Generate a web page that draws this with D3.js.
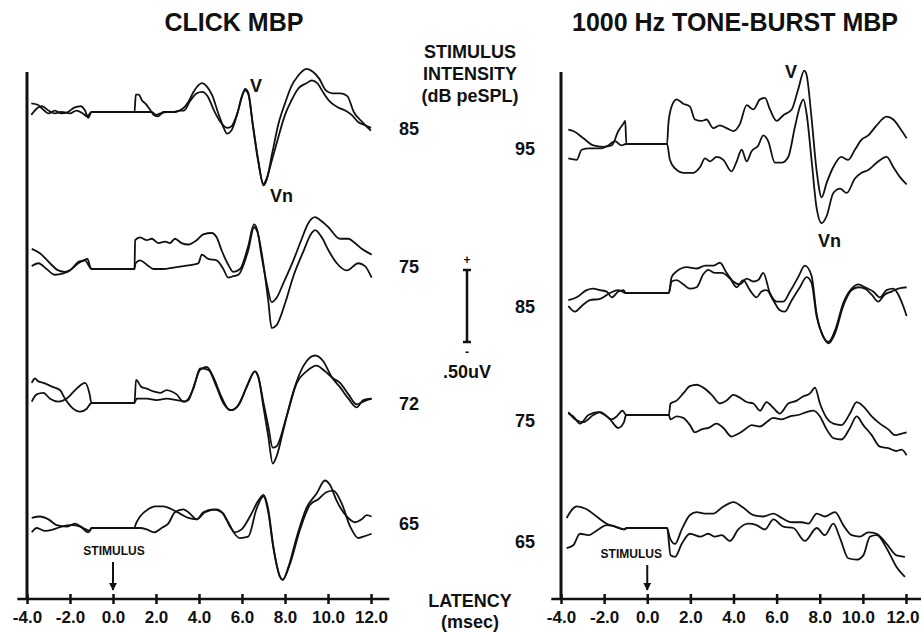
<!DOCTYPE html>
<html>
<head>
<meta charset="utf-8">
<script src="https://cdn.jsdelivr.net/npm/d3@7"></script>
<style>
  body { margin: 0; background: #fff; }
  svg text { font-family: "Liberation Sans", Arial, Helvetica, sans-serif; font-weight: bold; fill: #111; }
</style>
</head>
<body>
<svg id="chart"></svg>
<script>
const width = 921;
const height = 632;

// stimulus levels (dB peSPL) and latency ticks (msec)
const clickLevels = [85, 75, 72, 65];
const toneLevels = [95, 85, 75, 65];
const latencyTicks = [-4, -2, 0, 2, 4, 6, 8, 10, 12];

// waveforms: [latency msec, amplitude uV], two replications per level
const click85A = [[-3.8,0.06],[-3.5,0.05],[-3.2,0.01],[-3.0,-0.01],[-2.7,0.01],[-2.4,-0.01],[-2.1,0],[-1.8,0.03],[-1.5,0.04],[-1.3,0.01],[-1.15,-0.04],[-1.0,0],[1.0,0],[1.06,0.12],[1.2,0.12],[1.35,0.08],[1.5,0.06],[1.75,0.01],[1.9,-0.02],[2.1,-0.03],[2.35,0],[2.6,0],[2.9,0],[3.1,0.01],[3.3,0.03],[3.5,0.07],[3.75,0.14],[4.0,0.19],[4.15,0.2],[4.35,0.18],[4.6,0.12],[4.9,-0.01],[5.15,-0.11],[5.3,-0.15],[5.5,-0.13],[5.75,-0.03],[6.0,0.11],[6.15,0.16],[6.3,0.13],[6.5,-0.08],[6.75,-0.33],[7.0,-0.51],[7.15,-0.47],[7.4,-0.29],[7.7,-0.08],[8.0,0.06],[8.3,0.18],[8.6,0.25],[9.0,0.3],[9.3,0.28],[9.6,0.23],[9.9,0.15],[10.2,0.13],[10.6,0.13],[10.9,0.11],[11.2,0],[11.6,-0.07],[12.0,-0.13]];
const click85B = [[-3.8,-0.02],[-3.5,0.03],[-3.3,0.04],[-3.0,0.01],[-2.7,-0.01],[-2.4,0],[-2.0,-0.01],[-1.7,0.01],[-1.4,-0.01],[-1.2,-0.03],[-1.0,0],[1.0,0],[1.6,0],[1.8,0],[2.0,-0.02],[2.2,-0.01],[2.5,0],[2.8,0],[3.1,0.01],[3.3,0.01],[3.6,0.08],[3.9,0.13],[4.15,0.14],[4.4,0.11],[4.7,0.01],[5.0,-0.07],[5.3,-0.11],[5.5,-0.1],[5.8,0],[6.05,0.13],[6.15,0.15],[6.3,0.12],[6.5,-0.09],[6.75,-0.34],[7.0,-0.5],[7.15,-0.46],[7.4,-0.33],[7.7,-0.17],[8.0,-0.02],[8.3,0.08],[8.6,0.16],[9.0,0.2],[9.25,0.22],[9.5,0.2],[9.8,0.13],[10.1,0.07],[10.5,0.03],[10.8,0.01],[11.1,-0.02],[11.4,-0.07],[11.7,-0.09],[12.0,-0.11]];
const click75A = [[-3.78,0.14],[-3.4,0.11],[-2.93,0.04],[-2.54,-0.01],[-2.23,-0.02],[-1.92,0],[-1.61,0.04],[-1.3,0.06],[-1.15,0.03],[-1.0,0],[1.0,0],[1.03,0.2],[1.26,0.22],[1.57,0.2],[1.8,0.21],[2.11,0.18],[2.42,0.19],[2.65,0.18],[2.88,0.21],[3.19,0.18],[3.5,0.17],[3.89,0.2],[4.2,0.24],[4.59,0.25],[4.82,0.22],[5.05,0.13],[5.36,0.03],[5.6,-0.02],[5.91,0],[6.29,0.16],[6.56,0.31],[6.71,0.27],[6.91,0.09],[7.15,-0.1],[7.38,-0.23],[7.61,-0.2],[7.92,-0.1],[8.39,0.06],[8.78,0.21],[9.09,0.32],[9.4,0.36],[9.63,0.34],[10.02,0.29],[10.56,0.21],[10.95,0.21],[11.18,0.19],[11.57,0.14],[12.03,0.1]];
const click75B = [[-3.78,0.02],[-3.47,0.04],[-3.09,0],[-2.7,-0.04],[-2.31,-0.03],[-2.0,-0.01],[-1.61,0.05],[-1.38,0.06],[-1.19,0.07],[-1.05,0.01],[-1.0,0],[1.0,0],[1.05,0.04],[1.26,0.06],[1.57,0.03],[1.88,0],[2.34,0],[2.81,0.01],[3.27,0.02],[3.73,0.03],[3.97,0.04],[4.13,0.1],[4.43,0.07],[4.82,0.06],[5.13,0],[5.36,-0.06],[5.6,-0.05],[5.83,-0.04],[6.29,0.13],[6.56,0.29],[6.71,0.26],[6.99,0.04],[7.22,-0.22],[7.38,-0.41],[7.61,-0.39],[8.0,-0.24],[8.39,-0.05],[8.85,0.12],[9.24,0.25],[9.4,0.27],[9.71,0.22],[10.02,0.13],[10.41,0.04],[10.87,-0.01],[11.41,0.04],[11.72,0.02],[12.03,-0.06]];
const click72A = [[-3.78,0.14],[-3.63,0.17],[-3.47,0.15],[-3.24,0.14],[-2.78,0.11],[-2.47,0.09],[-2.23,0.03],[-1.92,-0.03],[-1.53,-0.06],[-1.22,-0.04],[-1.0,0],[1.0,0],[1.07,0.16],[1.33,0.11],[1.57,0.1],[1.88,0.08],[2.19,0.07],[2.5,0.09],[2.73,0.08],[2.96,0.06],[3.27,0.01],[3.5,0.02],[3.81,0.14],[4.05,0.23],[4.36,0.25],[4.67,0.18],[5.05,0.04],[5.44,-0.05],[5.75,-0.03],[6.22,0.11],[6.6,0.22],[6.76,0.18],[7.0,-0.03],[7.22,-0.23],[7.43,-0.42],[7.61,-0.37],[7.92,-0.19],[8.31,0.04],[8.7,0.21],[9.0,0.29],[9.4,0.33],[9.78,0.29],[10.17,0.18],[10.56,0.11],[10.95,0.03],[11.33,-0.03],[11.64,0.02],[12.03,0.03]];
const click72B = [[-3.78,0.01],[-3.55,0.06],[-3.24,0.07],[-2.93,0.03],[-2.54,0.01],[-2.16,0.03],[-1.69,0.1],[-1.3,0.14],[-1.1,0.07],[-1.0,0],[1.0,0],[1.1,0.03],[1.57,0.03],[2.03,0.02],[2.5,0.03],[2.96,0.02],[3.35,0.01],[3.74,0.1],[4.05,0.24],[4.43,0.23],[4.82,0.11],[5.13,0],[5.52,-0.05],[5.9,0],[6.29,0.14],[6.6,0.22],[6.76,0.18],[7.0,0],[7.22,-0.16],[7.43,-0.31],[7.61,-0.3],[8.08,-0.09],[8.55,0.14],[9.0,0.22],[9.47,0.26],[9.86,0.22],[10.25,0.17],[10.56,0.14],[10.95,0.06],[11.33,-0.01],[11.64,0.01],[12.03,0.03]];
const click65A = [[-3.78,0.07],[-3.4,0.08],[-3.0,0.06],[-2.62,0.02],[-2.16,0.01],[-1.77,0.03],[-1.38,0],[-1.07,-0.02],[-1.0,0],[1.0,0],[1.02,0.01],[1.26,0.08],[1.64,0.13],[1.95,0.15],[2.34,0.15],[2.73,0.13],[3.12,0.1],[3.5,0.07],[3.89,0.06],[4.2,0.11],[4.67,0.13],[5.05,0.11],[5.36,0.04],[5.67,-0.03],[5.98,-0.01],[6.37,0.08],[6.76,0.19],[7.0,0.23],[7.22,0.13],[7.46,-0.13],[7.77,-0.34],[7.89,-0.36],[8.16,-0.27],[8.55,-0.06],[9.0,0.14],[9.47,0.24],[9.86,0.33],[10.09,0.3],[10.4,0.19],[10.87,0.08],[11.26,0.04],[11.57,0.06],[11.8,0.09],[12.03,0.08]];
const click65B = [[-3.78,-0.03],[-3.55,0],[-3.16,-0.02],[-2.78,-0.01],[-2.39,0.01],[-1.92,0.02],[-1.53,0.01],[-1.15,-0.03],[-1.0,0],[1.0,0],[1.26,0],[1.57,-0.01],[1.91,-0.03],[2.26,0],[2.57,0.03],[2.88,0.11],[3.27,0.13],[3.58,0.1],[3.89,0.06],[4.28,0.11],[4.82,0.13],[5.13,0.1],[5.44,0.01],[5.9,-0.07],[6.29,-0.06],[6.67,0.13],[7.0,0.22],[7.22,0.11],[7.46,-0.14],[7.77,-0.34],[7.89,-0.36],[8.23,-0.25],[8.7,-0.01],[9.16,0.16],[9.55,0.2],[9.94,0.25],[10.25,0.26],[10.64,0.17],[11.03,0.01],[11.41,-0.07],[11.64,-0.06],[12.03,-0.04]];

const tone95A = [[-3.66,0.1],[-3.43,0.09],[-2.96,0.04],[-2.5,-0.01],[-2.04,-0.02],[-1.65,-0.01],[-1.34,0.09],[-1.11,0.14],[-1.02,0.16],[-0.97,0],[0.92,0],[0.98,0.14],[1.13,0.26],[1.36,0.31],[1.67,0.28],[1.98,0.26],[2.21,0.17],[2.52,0.16],[2.75,0.17],[3.06,0.11],[3.37,0.13],[3.68,0.11],[3.99,0.09],[4.3,0.14],[4.61,0.27],[4.92,0.24],[5.23,0.31],[5.46,0.32],[5.69,0.24],[6.0,0.16],[6.31,0.2],[6.7,0.24],[7.0,0.38],[7.28,0.51],[7.39,0.48],[7.62,0.18],[7.85,-0.18],[8.09,-0.37],[8.32,-0.27],[8.63,-0.16],[9.0,-0.09],[9.32,-0.11],[9.63,-0.04],[9.94,0.03],[10.25,0.06],[10.64,0.13],[11.1,0.19],[11.41,0.17],[11.72,0.11],[12.03,0.04]];
const tone95B = [[-3.66,-0.1],[-3.27,-0.11],[-3.04,-0.04],[-2.66,-0.03],[-2.11,-0.03],[-1.81,-0.01],[-1.5,0.02],[-1.19,-0.01],[-1.0,0],[0.92,0],[1.05,-0.11],[1.29,-0.17],[1.67,-0.2],[2.14,-0.2],[2.45,-0.16],[2.68,-0.1],[2.91,-0.12],[3.22,-0.09],[3.53,-0.11],[3.91,-0.19],[4.15,-0.12],[4.38,-0.04],[4.61,-0.12],[4.84,-0.05],[5.15,-0.01],[5.38,0.06],[5.61,0.02],[5.92,-0.13],[6.23,-0.13],[6.54,-0.09],[6.85,0.12],[7.08,0.26],[7.24,0.31],[7.39,0.21],[7.62,-0.11],[7.85,-0.44],[8.09,-0.55],[8.32,-0.5],[8.63,-0.34],[8.94,-0.31],[9.25,-0.34],[9.63,-0.24],[9.94,-0.2],[10.25,-0.18],[10.64,-0.13],[11.1,-0.09],[11.41,-0.16],[11.72,-0.23],[12.03,-0.28]];
const tone85A = [[-3.66,-0.05],[-3.27,-0.03],[-2.81,0.02],[-2.5,0.03],[-2.19,0.02],[-1.88,0.01],[-1.65,-0.03],[-1.34,0.01],[-1.1,0.02],[-1.0,0],[1.0,0],[1.13,0.11],[1.36,0.15],[1.83,0.18],[2.29,0.17],[2.68,0.19],[3.06,0.19],[3.37,0.21],[3.68,0.14],[3.99,0.08],[4.3,0.06],[4.61,0.1],[4.92,0.08],[5.15,0.09],[5.38,0.14],[5.69,0],[6.0,-0.06],[6.31,-0.06],[6.62,0.01],[7.0,0.11],[7.31,0.19],[7.62,0.12],[7.85,-0.14],[8.09,-0.28],[8.4,-0.34],[8.71,-0.26],[9.09,-0.07],[9.48,0.03],[9.79,0.06],[10.1,0.04],[10.48,0.01],[10.79,-0.03],[11.1,0.02],[11.41,0.03],[11.64,-0.01],[11.87,-0.09],[12.03,-0.16]];
const tone85B = [[-3.66,-0.09],[-3.35,-0.13],[-3.04,-0.09],[-2.66,-0.05],[-2.19,-0.04],[-1.73,0],[-1.34,0.02],[-1.0,0],[1.0,0],[1.13,0.08],[1.36,0.09],[1.67,0.06],[1.98,0.03],[2.29,0.04],[2.6,0.13],[2.83,0.16],[3.14,0.14],[3.45,0.14],[3.84,0.1],[4.15,0.04],[4.45,0.09],[4.76,0.02],[5.07,-0.03],[5.3,0.01],[5.53,0.02],[5.84,-0.05],[6.15,-0.12],[6.38,-0.13],[6.7,-0.05],[7.08,0.04],[7.39,0.11],[7.62,0.07],[7.85,-0.16],[8.16,-0.3],[8.4,-0.35],[8.71,-0.28],[9.09,-0.09],[9.48,0.02],[9.79,0.04],[10.1,0.03],[10.4,-0.01],[10.71,-0.06],[11.02,-0.01],[11.33,0.01],[11.64,0.03],[12.03,0.04]];
const tone75A = [[-3.66,0.01],[-3.43,-0.01],[-3.12,-0.06],[-2.73,0],[-2.27,0.02],[-1.96,0],[-1.65,-0.03],[-1.42,-0.01],[-1.14,0.03],[-0.98,0],[1.0,0],[1.08,0.08],[1.36,0.1],[1.67,0.15],[1.98,0.2],[2.29,0.21],[2.6,0.19],[2.99,0.14],[3.37,0.08],[3.68,0.1],[3.99,0.14],[4.3,0.12],[4.61,0.09],[4.92,0.08],[5.23,0.03],[5.53,0.09],[5.84,0.05],[6.15,0.01],[6.54,0.08],[6.93,0.1],[7.24,0.13],[7.55,0.15],[7.78,0.19],[8.01,0.08],[8.32,-0.02],[8.63,-0.06],[9.01,-0.07],[9.4,0.01],[9.71,0.09],[10.02,0.06],[10.41,-0.01],[10.79,-0.06],[11.18,-0.1],[11.49,-0.14],[11.8,-0.13],[12.03,-0.12]];
const tone75B = [[-3.66,0.02],[-3.35,-0.03],[-2.97,-0.05],[-2.5,0],[-2.19,0.02],[-1.73,-0.03],[-1.34,-0.09],[-1.08,-0.05],[-0.98,0],[1.0,0],[1.08,-0.03],[1.36,-0.01],[1.67,-0.02],[1.98,-0.07],[2.21,-0.12],[2.52,-0.1],[2.83,-0.09],[3.22,-0.06],[3.53,-0.09],[3.91,-0.15],[4.22,-0.13],[4.53,-0.1],[4.84,-0.07],[5.23,-0.08],[5.53,-0.05],[5.84,-0.02],[6.23,-0.03],[6.62,-0.01],[7.0,0],[7.39,0.02],[7.7,0.03],[8.01,-0.01],[8.32,-0.1],[8.63,-0.16],[9.01,-0.17],[9.4,-0.09],[9.71,-0.01],[10.02,-0.07],[10.41,-0.14],[10.79,-0.22],[11.18,-0.23],[11.56,-0.25],[11.8,-0.24],[12.03,-0.28]];
const tone65A = [[-3.74,0.07],[-3.27,0.15],[-2.81,0.13],[-2.35,0.08],[-1.88,0.03],[-1.49,0.01],[-1.11,-0.01],[-0.95,0],[0.92,0],[1.05,-0.07],[1.29,-0.11],[1.6,-0.01],[1.98,0.09],[2.29,0.11],[2.67,0.1],[3.06,0.1],[3.45,0.14],[4.0,0.18],[4.46,0.14],[4.92,0.09],[5.38,0.08],[5.85,0.1],[6.23,0.07],[6.7,0.04],[7.16,0.04],[7.47,0.03],[7.86,0.1],[8.24,0.08],[8.71,0.11],[9.09,0.02],[9.48,-0.05],[9.86,-0.06],[10.25,-0.03],[10.64,-0.04],[11.1,-0.11],[11.56,-0.19],[11.95,-0.2]];
const tone65B = [[-3.74,-0.14],[-3.43,-0.12],[-3.12,-0.04],[-2.73,-0.05],[-2.27,-0.01],[-1.88,0.02],[-1.49,0.01],[-1.03,-0.01],[-0.95,0],[0.92,0],[1.08,-0.19],[1.29,-0.2],[1.6,-0.11],[1.98,-0.04],[2.45,-0.06],[2.83,-0.04],[3.14,-0.06],[3.45,-0.05],[3.84,-0.09],[4.22,-0.01],[4.69,0.03],[5.07,0.02],[5.46,-0.01],[5.85,0.06],[6.31,0.01],[6.78,0],[7.31,-0.09],[7.86,0],[8.24,-0.05],[8.63,0.03],[8.94,-0.07],[9.32,-0.21],[9.71,-0.22],[10.02,-0.19],[10.33,-0.06],[10.64,-0.05],[11.1,-0.14],[11.56,-0.27],[11.95,-0.34]];

// layout
const axisY = 599;
const uVpx = 144; // pixels per microvolt
const panels = [
    {
        title: "CLICK MBP", titleX: 234, left: 27, right: 371,
        levels: clickLevels, bases: [112, 269, 403, 528],
        levelX: 399, levelY: [135, 273, 410, 530],
        traces: [[click85A, click85B], [click75A, click75B], [click72A, click72B], [click65A, click65B]],
        stimDx: 1, stimTextY: 555,
        peakV: { x: 250, y: 92 }, peakVn: { x: 270, y: 202 }
    },
    {
        title: "1000 Hz TONE-BURST MBP", titleX: 735, left: 561, right: 906,
        levels: toneLevels, bases: [144, 293, 415, 528],
        levelX: 515, levelY: [155, 313, 427, 548],
        traces: [[tone95A, tone95B], [tone85A, tone85B], [tone75A, tone75B], [tone65A, tone65B]],
        stimDx: -16, stimTextY: 558,
        peakV: { x: 785, y: 78 }, peakVn: { x: 818, y: 247 }
    }
];

const svg = d3.select("#chart")
    .attr("width", width)
    .attr("height", height);

svg.append("defs").append("marker")
    .attr("id", "arrow")
    .attr("viewBox", "0 0 10 10")
    .attr("refX", 9).attr("refY", 5)
    .attr("markerWidth", 4).attr("markerHeight", 4)
    .attr("orient", "auto")
    .append("path")
    .attr("d", "M0,0 L10,5 L0,10 Z")
    .attr("fill", "#111");

panels.forEach(p => {
    const x = d3.scaleLinear().domain([-4, 12]).range([p.left, p.right]);
    const g = svg.append("g");

    g.append("text")
        .attr("x", p.titleX).attr("y", 31)
        .attr("text-anchor", "middle")
        .style("font-size", "25px")
        .text(p.title);

    // y axis (vertical bar)
    g.append("line")
        .attr("x1", p.left).attr("x2", p.left)
        .attr("y1", 72).attr("y2", axisY)
        .attr("stroke", "#111").attr("stroke-width", 3);

    // x axis
    const xAxis = d3.axisBottom(x)
        .tickValues(latencyTicks)
        .tickFormat(d => d.toFixed(1))
        .tickSize(5)
        .tickSizeOuter(0);
    const ax = g.append("g")
        .attr("transform", `translate(0,${axisY})`)
        .call(xAxis);
    ax.select(".domain").remove();
    ax.selectAll(".tick line")
        .attr("y1", -5).attr("y2", 5)
        .attr("stroke", "#111").attr("stroke-width", 2.5);
    ax.selectAll(".tick text")
        .attr("y", 12).attr("dy", "0.71em")
        .style("font-size", "17px")
        .style("font-family", "'Liberation Sans', Arial, sans-serif")
        .style("font-weight", "bold")
        .attr("fill", "#111");
    // keep the last label inside the page, nudge its neighbour left
    if (x(12) + 18 > width) {
        ax.selectAll(".tick text")
            .filter(d => d === 12)
            .attr("text-anchor", "end")
            .attr("x", width - 2 - x(12));
        ax.selectAll(".tick text")
            .filter(d => d === 10)
            .attr("x", -5);
    }
    g.append("line")
        .attr("x1", x(-4.45)).attr("x2", x(12.85))
        .attr("y1", axisY).attr("y2", axisY)
        .attr("stroke", "#111").attr("stroke-width", 2.5);

    // waveforms
    p.levels.forEach((lvl, i) => {
        const y = d3.scaleLinear().domain([0, 0.5]).range([p.bases[i], p.bases[i] - 0.5 * uVpx]);
        const line = d3.line()
            .x(d => x(d[0]))
            .y(d => y(d[1]))
            .curve(d3.curveMonotoneX);
        g.selectAll(null)
            .data(p.traces[i])
            .enter()
            .append("path")
            .attr("d", line)
            .attr("fill", "none")
            .attr("stroke", "#111")
            .attr("stroke-width", 1.8)
            .attr("stroke-linejoin", "round");

        g.append("text")
            .attr("x", p.levelX).attr("y", p.levelY[i])
            .style("font-size", "18px")
            .text(lvl);
    });

    // stimulus marker
    g.append("text")
        .attr("x", x(0) + p.stimDx).attr("y", p.stimTextY)
        .attr("text-anchor", "middle")
        .style("font-size", "12px")
        .text("STIMULUS");
    g.append("line")
        .attr("x1", x(0)).attr("x2", x(0))
        .attr("y1", p.stimTextY + 7).attr("y2", 590)
        .attr("stroke", "#111").attr("stroke-width", 2)
        .attr("marker-end", "url(#arrow)");

    g.append("text").attr("x", p.peakV.x).attr("y", p.peakV.y)
        .style("font-size", "18px").text("V");
    g.append("text").attr("x", p.peakVn.x).attr("y", p.peakVn.y)
        .style("font-size", "18px").text("Vn");
});

// centre column labels
const mid = svg.append("g").attr("text-anchor", "middle");
["STIMULUS", "INTENSITY", "(dB peSPL)"].forEach((t, i) => {
    mid.append("text")
        .attr("x", 470).attr("y", 58 + i * 22)
        .style("font-size", "18px")
        .text(t);
});
mid.append("text").attr("x", 470).attr("y", 607).style("font-size", "18px").text("LATENCY");
mid.append("text").attr("x", 470).attr("y", 628).style("font-size", "18px").text("(msec)");

// calibration bar 0.50 uV
const barScale = d3.scaleLinear().domain([0, 0.5]).range([342, 342 - 0.5 * uVpx]);
const barX = 467;
mid.append("line")
    .attr("x1", barX).attr("x2", barX)
    .attr("y1", barScale(0)).attr("y2", barScale(0.5))
    .attr("stroke", "#111").attr("stroke-width", 2.5);
[0, 0.5].forEach(v => {
    mid.append("line")
        .attr("x1", barX - 4).attr("x2", barX + 4)
        .attr("y1", barScale(v)).attr("y2", barScale(v))
        .attr("stroke", "#111").attr("stroke-width", 2.5);
});
mid.append("text").attr("x", barX).attr("y", barScale(0.5) - 6).style("font-size", "12px").text("+");
mid.append("text").attr("x", barX).attr("y", barScale(0) + 14).style("font-size", "12px").text("-");
mid.append("text").attr("x", barX).attr("y", 378).style("font-size", "18px").text(".50uV");
</script>
</body>
</html>
